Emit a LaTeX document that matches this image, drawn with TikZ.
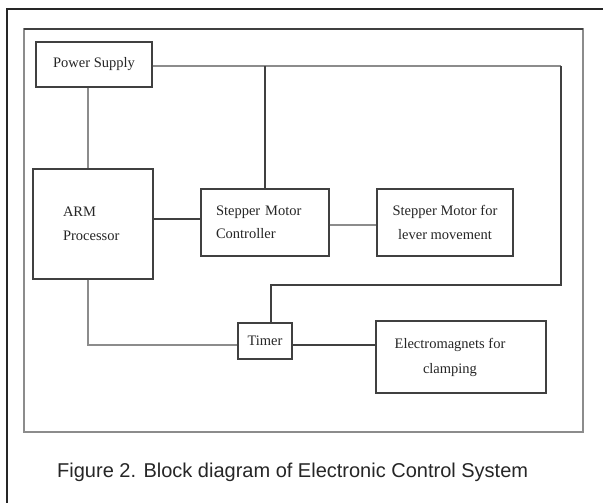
\documentclass[tikz,border=0pt]{standalone}
\usepackage{fontspec}
\setmainfont{Liberation Serif}
\newfontfamily\capfont{Liberation Sans}
\begin{document}
\begin{tikzpicture}[x=1pt,y=-1pt,
  box/.style={draw=black!75, line width=1.3pt, inner sep=0pt, fill=white,
    font=\fontsize{14.5}{23.5}\selectfont, text=black!85},
  darkwire/.style={draw=black!75, line width=1.3pt},
  greywire/.style={draw=black!45, line width=1.5pt},
]
\useasboundingbox (0,0) rectangle (603,503);
\clip (0,0) rectangle (603,503);
\fill[white] (0,0) rectangle (603,503);
% frames
\draw[black!85, line width=2pt] (7,9) rectangle (620,520);
\draw[black!45, line width=1.6pt] (24,29) rectangle (583,432);
\draw[black!75, line width=1.6pt] (24,29) -- (583,29);
% nodes
\node[box, minimum width=116pt, minimum height=45pt, align=center] (ps) at (94,64.5) {Power Supply};
\node[box, minimum height=110pt, text width=60pt, inner xsep=30pt, align=left] (arm) at (93,224) {ARM\\Processor};
\node[box, minimum height=67pt, text width=98pt, inner xsep=15pt, align=left] (smc) at (265,222.5) {Stepper Motor\\Controller};
\node[box, minimum width=136pt, minimum height=67pt, align=center] (sml) at (445,222.5) {Stepper Motor for\\lever movement};
\node[box, minimum width=54pt, minimum height=36pt, align=center] (timer) at (265,341) {Timer};
\node[box, minimum width=170pt, minimum height=72pt,
  label={[font=\fontsize{14.5}{25}\selectfont, text=black!85, align=center, xshift=-11pt]center:Electromagnets for\\clamping}] (em) at (461,357) {};
\coordinate (pr) at (561,66);
\coordinate (tw) at (561,285);
% wires
\draw[greywire] (ps.east |- pr) -- (pr);
\draw[darkwire] (pr) -- (tw) -| ([xshift=6pt]timer.north);
\draw[darkwire] (smc.north) -- (smc.north |- pr);
\draw[greywire] ([xshift=-6pt]ps.south) -- ([xshift=-5pt]arm.north);
\draw[darkwire] ([yshift=5pt]arm.east) -- ([yshift=5pt]arm.east -| smc.west);
\draw[greywire] ([yshift=-2.5pt]smc.east) -- ([yshift=-2.5pt]smc.east -| sml.west);
\draw[greywire] ([xshift=-5pt]arm.south) |- ([yshift=-4pt]timer.west);
\draw[darkwire] ([yshift=-4pt]timer.east) -- ([yshift=-4pt]timer.east -| em.west);
% caption
\node[anchor=base west, inner sep=0pt, font=\capfont\fontsize{20}{24}\selectfont, text=black!85] (cap) at (57,477) {Figure 2. Block diagram of Electronic Control System};
\end{tikzpicture}
\end{document}
